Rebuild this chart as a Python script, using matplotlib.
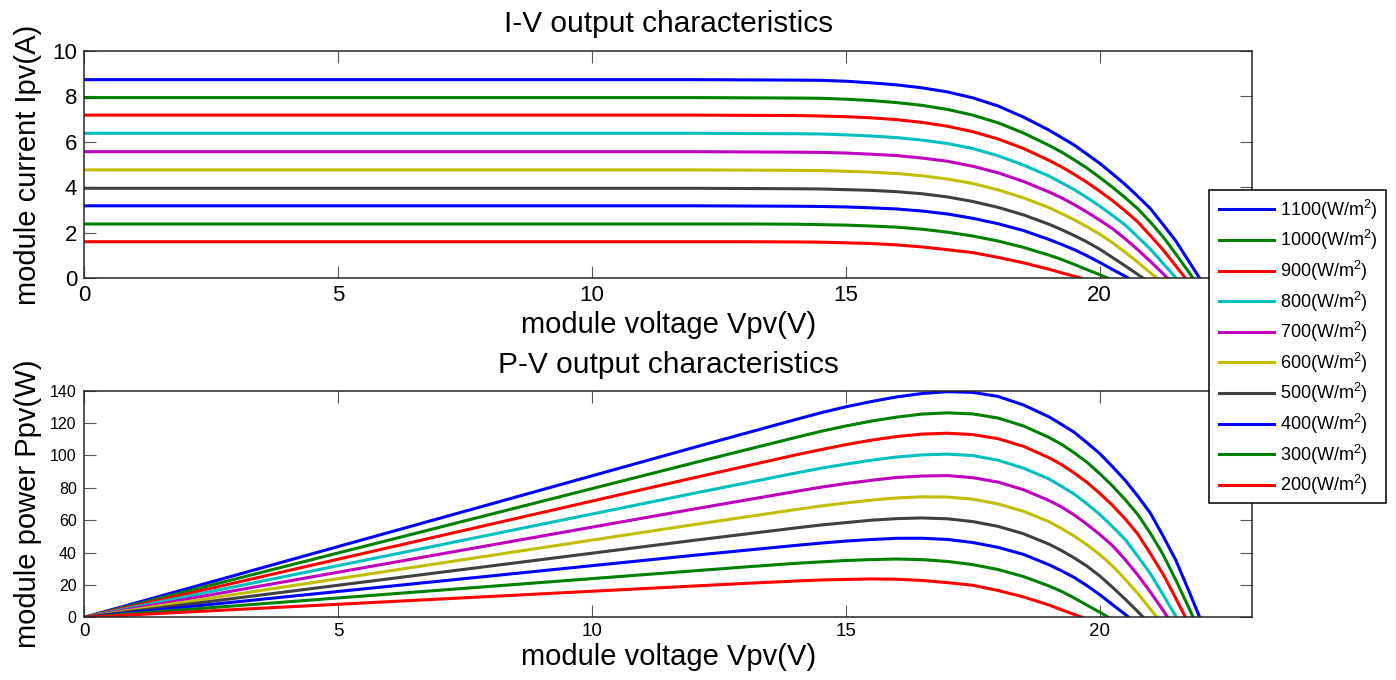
import matplotlib
matplotlib.use("Agg")
import matplotlib.pyplot as plt
from matplotlib.patches import Rectangle

# ---------------- data ----------------
IRRADIANCE = [1100, 1000, 900, 800, 700, 600, 500, 400, 300, 200]

# shared voltage grid (V); each curve uses the points below its Voc
V_GRID = [0, 5, 10, 12, 13, 14, 14.5, 15, 15.5, 16, 16.5, 17, 17.5, 18,
          18.5, 19, 19.25, 19.5, 19.75, 20, 20.25, 20.5, 20.75, 21, 21.25,
          21.5, 21.75]

# open-circuit voltage of each curve (V)
VOC = [21.97, 21.84, 21.69, 21.51, 21.34, 21.13, 20.86, 20.57, 20.17, 19.65]

# module current (A) at the grid voltages
I_1100 = [8.74, 8.74, 8.74, 8.74, 8.73, 8.72, 8.71, 8.67, 8.60, 8.51, 8.38,
          8.20, 7.94, 7.58, 7.09, 6.52, 6.19, 5.86, 5.46, 5.06, 4.60, 4.13,
          3.61, 3.06, 2.36, 1.64, 0.77]
I_1000 = [7.95, 7.95, 7.95, 7.95, 7.94, 7.93, 7.92, 7.88, 7.82, 7.73, 7.61,
          7.43, 7.18, 6.84, 6.39, 5.85, 5.55, 5.21, 4.85, 4.44, 4.01, 3.55,
          3.06, 2.47, 1.82, 1.07, 0.29]
I_900 = [7.18, 7.18, 7.18, 7.18, 7.17, 7.16, 7.14, 7.11, 7.06, 6.98, 6.86,
         6.69, 6.45, 6.13, 5.71, 5.19, 4.90, 4.57, 4.22, 3.83, 3.42, 2.97,
         2.48, 1.87, 1.25, 0.54]
I_800 = [6.38, 6.38, 6.38, 6.38, 6.37, 6.36, 6.35, 6.31, 6.26, 6.19, 6.08,
         5.93, 5.71, 5.39, 4.98, 4.50, 4.20, 3.90, 3.55, 3.18, 2.77, 2.35,
         1.82, 1.28, 0.65]
I_700 = [5.57, 5.57, 5.57, 5.57, 5.56, 5.55, 5.54, 5.51, 5.46, 5.40, 5.29,
         5.15, 4.93, 4.64, 4.26, 3.80, 3.54, 3.24, 2.91, 2.56, 2.19, 1.74,
         1.26, 0.74, 0.20]
I_600 = [4.77, 4.77, 4.77, 4.77, 4.76, 4.75, 4.74, 4.71, 4.67, 4.61, 4.51,
         4.37, 4.17, 3.89, 3.54, 3.11, 2.85, 2.57, 2.27, 1.94, 1.57, 1.15,
         0.71, 0.24]
I_500 = [3.96, 3.96, 3.96, 3.96, 3.95, 3.94, 3.93, 3.90, 3.87, 3.81, 3.72,
         3.58, 3.38, 3.12, 2.79, 2.38, 2.14, 1.88, 1.60, 1.28, 0.92, 0.55,
         0.17]
I_400 = [3.19, 3.19, 3.19, 3.19, 3.18, 3.17, 3.16, 3.14, 3.10, 3.05, 2.96,
         2.83, 2.64, 2.40, 2.10, 1.71, 1.49, 1.26, 0.99, 0.70, 0.39, 0.09]
I_300 = [2.39, 2.39, 2.39, 2.39, 2.39, 2.38, 2.36, 2.34, 2.30, 2.25, 2.16,
         2.03, 1.86, 1.64, 1.36, 1.02, 0.83, 0.61, 0.38, 0.16]
I_200 = [1.61, 1.61, 1.61, 1.61, 1.61, 1.60, 1.59, 1.56, 1.53, 1.47, 1.38,
         1.26, 1.13, 0.92, 0.68, 0.40, 0.24, 0.09]

CURRENTS = [I_1100, I_1000, I_900, I_800, I_700, I_600, I_500, I_400, I_300, I_200]

# matlab default line colours
COLORS = [(0, 0, 1), (0, 0.5, 0), (1, 0, 0), (0, 0.75, 0.75), (0.75, 0, 0.75),
          (0.75, 0.75, 0), (0.25, 0.25, 0.25), (0, 0, 1), (0, 0.5, 0), (1, 0, 0)]

# ---------------- style ----------------
plt.rcParams["font.family"] = ["Liberation Sans", "DejaVu Sans"]
plt.rcParams["mathtext.default"] = "regular"
AX_COLOR = "#262626"
LW = 2.2

fig = plt.figure(figsize=(13.96, 6.8), dpi=100)
W, H = 1396, 680


def px_axes(left, top, right, bottom):
    return fig.add_axes([left / W, 1 - bottom / H, (right - left) / W, (bottom - top) / H])


ax_iv = px_axes(84.3, 51, 1252, 278.3)
ax_pv = px_axes(84.3, 390.7, 1252, 617.3)

handles = []
for g, voc, cur, col in zip(IRRADIANCE, VOC, CURRENTS, COLORS):
    v = V_GRID[:len(cur)] + [voc]
    i = cur + [0.0]
    p = [vv * ii for vv, ii in zip(v, i)]
    h, = ax_iv.plot(v, i, color=col, lw=LW, label=f"{g}(W/m$^2$)")
    ax_pv.plot(v, p, color=col, lw=LW)
    handles.append(h)

# ---------------- axes ----------------
for ax in (ax_iv, ax_pv):
    ax.set_xlim(0, 23)
    ax.set_xticks([0, 5, 10, 15, 20])
    ax.tick_params(direction="in", top=True, right=True, length=8.5, width=0.8,
                   color="#555555", labelcolor="black")
    for s in ax.spines.values():
        s.set_linewidth(1.1)
        s.set_color(AX_COLOR)

ax_iv.set_ylim(0, 10)
ax_iv.set_yticks([0, 2, 4, 6, 8, 10])
ax_iv.tick_params(labelsize=16, pad=5)

ax_pv.set_ylim(0, 140)
ax_pv.set_yticks([0, 20, 40, 60, 80, 100, 120, 140])
ax_pv.tick_params(axis="y", labelsize=11.5, pad=5.5)
ax_pv.tick_params(axis="x", labelsize=13.5, pad=4)

ax_iv.set_title("I-V output characteristics", fontsize=21.5, pad=13.5)
ax_pv.set_title("P-V output characteristics", fontsize=21.5, pad=13)
ax_iv.set_xlabel("module voltage Vpv(V)", fontsize=21)
ax_pv.set_xlabel("module voltage Vpv(V)", fontsize=21)
ax_iv.set_ylabel("module current Ipv(A)", fontsize=21)
ax_pv.set_ylabel("module power Ppv(W)", fontsize=21)
ax_iv.xaxis.set_label_coords(0.5, -0.144)
ax_pv.xaxis.set_label_coords(0.5, -0.113)
ax_iv.yaxis.set_label_coords(-0.036, 0.5)
ax_pv.yaxis.set_label_coords(-0.036, 0.5)

# ---------------- legend ----------------
# legend frame drawn separately so its padding can differ in x and y
box = Rectangle((1209 / W, 1 - 503 / H), 177 / W, 313 / H,
                transform=fig.transFigure, facecolor="white",
                edgecolor="black", linewidth=1.1, zorder=4)
fig.add_artist(box)

leg = fig.legend(handles=handles, loc="upper left",
                 bbox_to_anchor=(1215 / W, 1 - 194 / H), borderaxespad=0,
                 fontsize=13, handlelength=3.05, handletextpad=0.33,
                 labelspacing=0.36, borderpad=0.2, frameon=False)
leg.set_zorder(5)

fig.savefig("out.png", dpi=100, facecolor="white")
